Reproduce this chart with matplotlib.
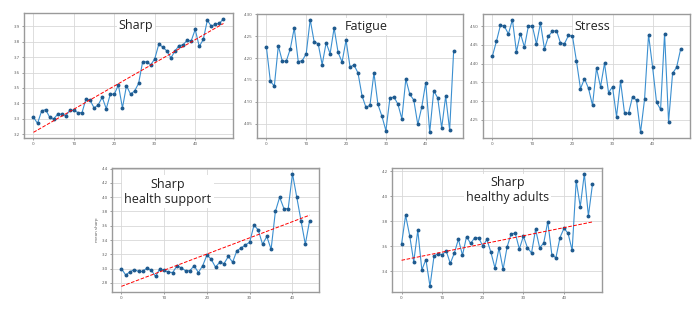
import numpy as np
import matplotlib.pyplot as plt

plt.rcParams['font.family'] = ['Open Sans', 'DejaVu Sans']

# weekly means
sharp = [3.31, 3.27, 3.35, 3.36, 3.31, 3.30, 3.33, 3.33, 3.32, 3.355,
         3.355, 3.34, 3.34, 3.43, 3.42, 3.37, 3.39, 3.44, 3.365, 3.46,
         3.46, 3.52, 3.37, 3.515, 3.46, 3.48, 3.53, 3.67, 3.67, 3.65,
         3.69, 3.785, 3.765, 3.74, 3.695, 3.74, 3.775, 3.78, 3.81, 3.805,
         3.88, 3.77, 3.815, 3.94, 3.90, 3.915, 3.92, 3.95]

fatigue = [4.226, 4.147, 4.136, 4.228, 4.193, 4.193, 4.221, 4.269, 4.192, 4.194,
           4.210, 4.288, 4.237, 4.233, 4.185, 4.235, 4.210, 4.269, 4.213, 4.191,
           4.241, 4.180, 4.184, 4.166, 4.114, 4.087, 4.092, 4.166, 4.094, 4.067,
           4.034, 4.108, 4.111, 4.095, 4.061, 4.152, 4.117, 4.104, 4.048, 4.088,
           4.144, 4.030, 4.125, 4.109, 4.040, 4.113, 4.035, 4.216]

stress = [4.420, 4.459, 4.502, 4.499, 4.479, 4.517, 4.431, 4.480, 4.444, 4.501,
          4.499, 4.452, 4.508, 4.439, 4.473, 4.486, 4.488, 4.455, 4.453, 4.475,
          4.473, 4.406, 4.333, 4.360, 4.334, 4.289, 4.388, 4.338, 4.401, 4.323,
          4.338, 4.259, 4.353, 4.268, 4.268, 4.312, 4.302, 4.217, 4.305, 4.477,
          4.391, 4.297, 4.278, 4.480, 4.245, 4.374, 4.390, 4.438]

sharp_support = [3.00, 2.91, 2.955, 2.985, 2.96, 2.96, 3.01, 2.975, 2.89, 3.00,
                 2.975, 2.95, 2.945, 3.04, 3.01, 2.97, 2.97, 3.04, 2.945, 3.04,
                 3.19, 3.13, 3.02, 3.09, 3.07, 3.17, 3.09, 3.25, 3.29, 3.33,
                 3.37, 3.61, 3.54, 3.34, 3.45, 3.27, 3.80, 4.00, 3.84, 3.84,
                 4.33, 4.00, 3.67, 3.34, 3.67]

sharp_healthy = [3.617, 3.847, 3.685, 3.476, 3.727, 3.411, 3.494, 3.280, 3.523, 3.541,
                 3.533, 3.562, 3.463, 3.546, 3.656, 3.528, 3.677, 3.622, 3.667, 3.667,
                 3.601, 3.654, 3.552, 3.426, 3.586, 3.416, 3.596, 3.700, 3.703, 3.578,
                 3.680, 3.588, 3.546, 3.735, 3.588, 3.625, 3.797, 3.533, 3.507, 3.669,
                 3.743, 3.703, 3.567, 4.122, 3.915, 4.179, 3.842, 4.093]

W, H = 692, 321
fig = plt.figure(figsize=(W / 100, H / 100), dpi=100)


def panel(box, values, title, title_xy, trend=False, ylabel=None, fs=9):
    x0, y0, x1, y1 = box
    ax = fig.add_axes([x0 / W, 1 - y1 / H, (x1 - x0) / W, (y1 - y0) / H])
    x = np.arange(len(values))
    ax.plot(x, values, color='#3b8fd0', linewidth=0.8, marker='o',
            markersize=1.8, markerfacecolor='#1f5a8e', markeredgecolor='#1f5a8e')
    if trend:
        k, b = np.polyfit(x, values, 1)
        ax.plot(x, k * x + b, color='red', linestyle='--', linewidth=0.7)
    ax.grid(True, color='#d8d8d8', linewidth=0.6)
    ax.set_axisbelow(True)
    for s in ax.spines.values():
        s.set_color('#9a9a9a')
        s.set_linewidth(1.0)
    ax.tick_params(labelsize=3.2, length=1.5, width=0.4, pad=1.5, colors='#555555')
    if ylabel:
        ax.set_ylabel(ylabel, fontsize=3.2, labelpad=2, color='#555555')
    ax.text(title_xy[0], title_xy[1], title, transform=ax.transAxes,
            ha='center', va='center', fontsize=fs, color='#222222',
            linespacing=1.2,
            bbox=dict(facecolor='white', edgecolor='none', pad=1.5))
    return ax


panel((24, 13, 233, 138), sharp, 'Sharp', (0.536, 0.90), trend=True)
panel((257, 14, 463, 138), fatigue, 'Fatigue', (0.53, 0.90))
panel((483, 14, 690, 138), stress, 'Stress', (0.53, 0.90))
panel((112, 168, 319, 292), sharp_support, 'Sharp\nhealth support', (0.27, 0.81),
      trend=True, ylabel='mean sharp')
panel((392, 168, 602, 292), sharp_healthy, 'Sharp\nhealthy adults', (0.55, 0.82),
      trend=True)

fig.savefig('out.png', dpi=100)
